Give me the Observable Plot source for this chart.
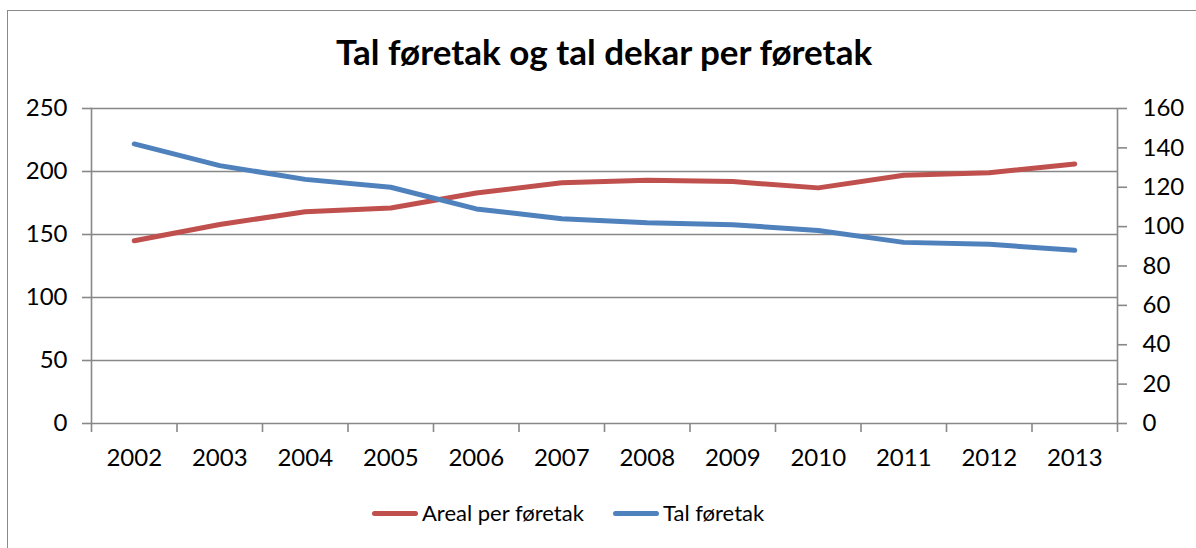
<!DOCTYPE html>
<html>
<head>
<meta charset="utf-8">
<script src="https://cdn.jsdelivr.net/npm/d3@7"></script>
<script src="https://cdn.jsdelivr.net/npm/@observablehq/plot@0.6"></script>
<style>
  html, body { margin: 0; padding: 0; background: #fff; }
  #wrap { position: relative; width: 1196px; height: 548px; overflow: hidden; font-family: Lato, "Open Sans", sans-serif; }
  #frame { position: absolute; left: 7px; top: 10px; width: 1300px; height: 700px; border: 1.5px solid #8a8a8a; box-sizing: border-box; }
  #title { position: absolute; left: 91px; width: 1026px; top: 30px; text-align: center; font-size: 35px; font-weight: bold; color: #000; line-height: 42px; }
  #chart { position: absolute; left: 0; top: 80px; }
  .leg { position: absolute; top: 498px; display: flex; align-items: center; font-size: 22px; color: #000; line-height: 30px; }
  .sw { display: inline-block; width: 46px; height: 5px; border-radius: 3px; margin-right: 4px; }
</style>
</head>
<body>
<div id="wrap">
  <div id="frame"></div>
  <div id="title">Tal føretak og tal dekar per føretak</div>
  <div id="chart"></div>
  <div class="leg" style="left:372px"><span class="sw" style="background:#C0504D"></span>Areal per føretak</div>
  <div class="leg" style="left:613px"><span class="sw" style="background:#4F81BD"></span>Tal føretak</div>
</div>
<script>
const years = [2002, 2003, 2004, 2005, 2006, 2007, 2008, 2009, 2010, 2011, 2012, 2013];
const arealPerForetak = [145, 158, 168, 171, 183, 191, 193, 192, 187, 197, 199, 206];
const talForetak = [142, 131, 124, 120, 109, 104, 102, 101, 98, 92, 91, 88];
const leftTicks = [0, 50, 100, 150, 200, 250];
const rightTicks = [0, 20, 40, 60, 80, 100, 120, 140, 160];
const leftMax = 250, rightMax = 160;
const toLeft = v => v * leftMax / rightMax;

const red = years.map((y, i) => ({year: y, v: arealPerForetak[i]}));
const blue = years.map((y, i) => ({year: y, v: toLeft(talForetak[i])}));
const bandEdges = d3.range(years.length + 1).map(i => years[0] - 0.5 + i);

const gray = "#888888";
const plot = Plot.plot({
  width: 1196,
  height: 390,
  marginLeft: 91,
  marginRight: 79,
  marginTop: 28,
  marginBottom: 47,
  style: {fontFamily: "Lato, 'Open Sans', sans-serif", fontSize: "24px", color: "#000", background: "transparent"},
  x: {type: "linear", domain: [years[0] - 0.5, years[years.length - 1] + 0.5]},
  y: {domain: [0, leftMax]},
  marks: [
    Plot.ruleY(leftTicks, {stroke: gray, strokeWidth: 1.6}),
    Plot.frame({anchor: "left", stroke: gray, strokeWidth: 1.6}),
    Plot.frame({anchor: "right", stroke: gray, strokeWidth: 1.6}),
    Plot.axisY(leftTicks, {anchor: "left", tickSize: 9, tickPadding: 15, stroke: gray, strokeWidth: 1.6, label: null, fill: "#000"}),
    Plot.axisY(rightTicks.map(toLeft), {anchor: "right", tickSize: 9, tickPadding: 16, stroke: gray, strokeWidth: 1.6, label: null, fill: "#000", tickFormat: d => String(Math.round(d * rightMax / leftMax))}),
    Plot.axisX(bandEdges, {anchor: "bottom", tickSize: 9, stroke: gray, strokeWidth: 1.6, tickFormat: () => "", label: null}),
    Plot.axisX(years, {anchor: "bottom", tickSize: 0, tickPadding: 25, tickFormat: d => String(d), label: null, fill: "#000"}),
    Plot.line(red, {x: "year", y: "v", stroke: "#C0504D", strokeWidth: 5, strokeLinecap: "round", strokeLinejoin: "round"}),
    Plot.line(blue, {x: "year", y: "v", stroke: "#4F81BD", strokeWidth: 5, strokeLinecap: "round", strokeLinejoin: "round"})
  ]
});
document.getElementById("chart").appendChild(plot);
</script>
</body>
</html>
